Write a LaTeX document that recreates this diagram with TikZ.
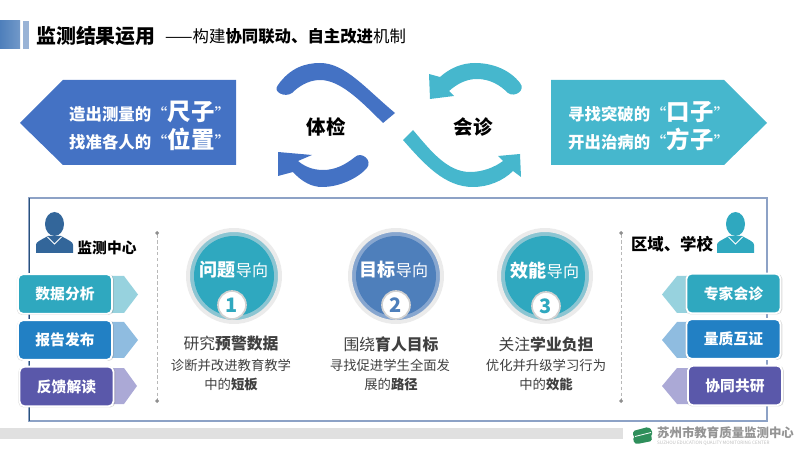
\documentclass[tikz,border=0pt]{standalone}
\usepackage{fontspec}
\setmainfont{Noto Sans CJK SC}
\usetikzlibrary{arrows.meta,shadows}
\definecolor{SZBlue}{HTML}{4472C4}
\definecolor{SZCyan}{HTML}{46B7CD}
\definecolor{SZTeal}{HTML}{2FA8BF}
\definecolor{SZTealPale}{HTML}{8CC5D2}
\definecolor{SZSteel}{HTML}{4E7FBB}
\definecolor{SZSteelPale}{HTML}{87A6CF}
\definecolor{SZAzure}{HTML}{2280C4}
\definecolor{SZViolet}{HTML}{5A58AA}
\definecolor{SZTealTag}{HTML}{97D2DE}
\definecolor{SZAzureTag}{HTML}{8FBCE0}
\definecolor{SZVioletTag}{HTML}{ABA9D6}
\definecolor{SZFrame}{HTML}{8DA2C6}
\definecolor{SZNavy}{HTML}{33669A}
\definecolor{SZInk}{HTML}{404040}
\definecolor{SZLogo}{HTML}{2F8F5B}
\newcommand{\bigwordfont}{\fontsize{20}{20}\selectfont\bfseries}
\newcommand{\quoteword}[1]{{\mdseries “}{\bigwordfont #1}{\mdseries ”}}

\begin{document}
\begin{tikzpicture}[
      x=0.3mm,y=-0.3mm,
      band/.style={anchor=west,inner sep=0pt,text=white,font=\fontsize{14}{16}\selectfont\bfseries},
      btn/.style={draw=white,line width=0.55mm,rounded corners=1.5mm,inner sep=0pt,
        minimum width=28.2mm,minimum height=11.9mm,text=white,
        font=\fontsize{12.6}{14}\selectfont\bfseries,
        drop shadow={shadow xshift=0.1mm,shadow yshift=-0.15mm,shadow scale=1.03,opacity=.3,fill=gray}},
      ring/.style={circle,minimum size=27.6mm,line width=1.2mm,draw=black!8,inner sep=0pt},
      disc/.style={circle,minimum size=24mm,inner sep=0pt},
      badge/.style={circle,minimum size=8.4mm,inner sep=0pt,fill=white,draw=black!18,
        line width=0.5mm,font=\fontsize{17}{18}\selectfont\bfseries},
      headword/.style={inner sep=0pt,text=white,font=\fontsize{13.7}{16}\selectfont},
      lead/.style={inner sep=0pt,text=SZInk,font=\fontsize{13.5}{16}\selectfont},
      note/.style={inner sep=0pt,text=SZInk,font=\fontsize{11.4}{14}\selectfont},
      cyclelabel/.style={inner sep=0pt,font=\fontsize{16.6}{18}\selectfont\bfseries},
      divider/.style={densely dashed,draw=black!28,line width=0.25mm,
        {Diamond[length=1.2mm,width=1.2mm,color=black!45,fill=black!45]}-{Diamond[length=1.2mm,width=1.2mm,color=black!45,fill=black!45]}},
      person/.pic={
        \fill[pic actions] (18.5,11) ellipse [x radius=9.5,y radius=12];
        \fill[pic actions] (0,40) -- (0,32) .. controls (0,29) and (3,28) .. (12,23)
          -- (25,23) .. controls (34,28) and (37,29) .. (37,32) -- (37,40) -- cycle;
        \draw[white,line width=0.3mm] (11.5,24) -- (18.5,31) -- (25.5,24);
      }
    ]
    \useasboundingbox (0,0) rectangle (800,450);

    % title strip
    \fill[left color=SZSteel,right color=SZSteel!80] (0,21) rectangle (20,49);
    \fill[SZSteelPale!85] (23,21) rectangle (29,49);
    \node[anchor=west,inner sep=0pt,font=\fontsize{17}{20}\selectfont\bfseries] (title) at (36,36)
      {监测结果运用};
    \node[anchor=west,inner sep=0pt,font=\fontsize{14}{16}\selectfont] (subtitle) at (165,36)
      {——构建\textbf{协同联动、自主改进}机制};

    % upper row
    \fill[SZBlue] (20,123) -- (63,80) -- (236,80) -- (236,165) -- (63,165) -- cycle;
    \fill[SZCyan] (551,80) -- (724,80) -- (767,123) -- (724,165) -- (551,165) -- cycle;
    \node[band] (ruler) at (69,112) {造出测量的\quoteword{尺子}};
    \node[band] (place) at (69,139) {找准各人的\quoteword{位置}};
    \node[band] (gap) at (568,112) {寻找突破的\quoteword{口子}};
    \node[band] (cure) at (568,139) {开出治病的\quoteword{方子}};

    \fill[SZBlue] (278,85) .. controls (290,68) and (305,63) .. (320,63)
      .. controls (345,63) and (365,88) .. (395,113) -- (383,123)
      .. controls (360,100) and (340,80) .. (320,80)
      .. controls (308,80) and (298,87) .. (292,93)
      .. controls (285,98) and (272,92) .. (278,85) -- cycle;
    \fill[SZBlue] (355,157) .. controls (345,165) and (335,170) .. (323,170)
      .. controls (312,170) and (304,166) .. (298,161) -- (312,155) -- (278,152)
      -- (278,176) -- (293,172) .. controls (302,182) and (312,187) .. (322,187)
      .. controls (340,187) and (358,178) .. (367,168)
      .. controls (373,160) and (361,151) .. (355,157) -- cycle;
    \fill[SZCyan] (429,74) -- (430,99) -- (454,96) -- (449,91)
      .. controls (457,84) and (466,79) .. (477,79)
      .. controls (490,79) and (500,85) .. (508,93)
      .. controls (515,98) and (526,90) .. (520,83)
      .. controls (510,70) and (493,63) .. (475,63)
      .. controls (462,63) and (450,68) .. (440,77) -- cycle;
    \fill[SZCyan] (403,140) -- (413,130) .. controls (430,150) and (447,172) .. (470,172)
      .. controls (483,172) and (495,167) .. (503,161) -- (498,156) -- (520,154)
      -- (521,177) -- (513,171) .. controls (503,181) and (488,187) .. (473,187)
      .. controls (445,187) and (425,165) .. (403,140) -- cycle;
    \node[cyclelabel] (checkup) at (326,127) {体检};
    \node[cyclelabel] (consult) at (473,127) {会诊};

    % frame and footer
    \draw[SZFrame,line width=0.55mm] (29,198) rectangle (767,421);
    \draw[SZNavy!80!black,line width=0.3mm] (29,198) -- (29,421);
    \fill[black!12] (0,428) rectangle (623,439);

    % left side
    \pic[fill=SZNavy] at (36,213) {person};
    \node[inner sep=0pt,font=\fontsize{12.6}{14}\selectfont\bfseries] (center) at (107,248) {监测中心};
    \fill[SZTealTag] (100,276) -- (124,276) -- (138,294.5) -- (124,313) -- (100,313) -- cycle;
    \fill[SZAzureTag] (100,322) -- (124,322) -- (138,340) -- (124,358) -- (100,358) -- cycle;
    \fill[SZVioletTag] (100,368) -- (124,368) -- (137,386) -- (124,404) -- (100,404) -- cycle;
    \node[btn,fill=SZTeal] (analysis) at (65,294) {数据分析};
    \node[btn,fill=SZAzure] (report) at (65,340) {报告发布};
    \node[btn,fill=SZViolet] (reading) at (66.5,386.5) {反馈解读};

    % right side
    \pic[fill=SZTeal] at (717,213) {person};
    \node[inner sep=0pt,font=\fontsize{14}{16}\selectfont\bfseries] (schools) at (672,244) {区域、学校};
    \fill[SZTealTag] (700,276) -- (677,276) -- (662,294.5) -- (677,313) -- (700,313) -- cycle;
    \fill[SZAzureTag] (700,322) -- (677,322) -- (662,340) -- (677,358) -- (700,358) -- cycle;
    \fill[SZVioletTag] (700,368) -- (677,368) -- (662,386) -- (677,404) -- (700,404) -- cycle;
    \node[btn,fill=SZTeal] (experts) at (733.5,293.5) {专家会诊};
    \node[btn,fill=SZAzure] (quality) at (733.5,339) {量质互证};
    \node[btn,fill=SZViolet] (research) at (735,385.5) {协同共研};

    % dividers
    \coordinate (divLa) at (157,231);
    \coordinate (divLb) at (157,403);
    \coordinate (divRa) at (621,231);
    \coordinate (divRb) at (621,403);
    \draw[divider] (divLa) -- (divLb);
    \draw[divider] (divRa) -- (divRb);

    % three columns
    \node[ring,fill=SZTealPale] (ringA) at (234,276) {};
    \node[disc,fill=SZTeal] (discA) at (234,276) {};
    \node[headword] (headA) at (234,270)
      {\fontsize{15.4}{16}\selectfont\textbf{问题}\fontsize{13.7}{16}\selectfont 导向};
    \node[badge,text=SZTeal] (badgeA) at (232,305) {1};
    \node[lead] (leadA) at (231,344) {研究\textbf{预警数据}};
    \node[note] (noteA) at (231,365) {诊断并改进教育教学};
    \node[note] (endA) at (231,384) {中的\textbf{短板}};

    \node[ring,fill=SZSteelPale] (ringB) at (396,276) {};
    \node[disc,fill=SZSteel] (discB) at (396,276) {};
    \node[headword] (headB) at (394,270)
      {\fontsize{15.4}{16}\selectfont\textbf{目标}\fontsize{13.7}{16}\selectfont 导向};
    \node[badge,text=SZSteel] (badgeB) at (396,305) {2};
    \node[lead] (leadB) at (391,344) {围绕\textbf{育人目标}};
    \node[note] (noteB) at (390,365) {寻找促进学生全面发};
    \node[note] (endB) at (391,384) {展的\textbf{路径}};

    \node[ring,fill=SZTealPale] (ringC) at (545,276) {};
    \node[disc,fill=SZTeal] (discC) at (545,276) {};
    \node[headword] (headC) at (545,271)
      {\fontsize{15.4}{16}\selectfont\textbf{效能}\fontsize{13.7}{16}\selectfont 导向};
    \node[badge,text=SZTeal] (badgeC) at (546,306) {3};
    \node[lead] (leadC) at (546,344) {关注\textbf{学业负担}};
    \node[note] (noteC) at (546,365) {优化并升级学习行为};
    \node[note] (endC) at (546,384) {中的\textbf{效能}};

    % footer logo
    \fill[SZLogo,rounded corners=0.5mm] (633,431) -- (648,427) -- (652,430) -- (652,436) -- (637,440) -- (633,436) -- cycle;
    \fill[SZLogo,rounded corners=0.5mm] (633,437) -- (651,433) -- (652,441) -- (637,444) -- (634,443) -- cycle;
    \draw[white,line width=0.25mm] (635,436.5) -- (651,432.5);
    \node[anchor=west,inner sep=0pt,text=black!42,font=\fontsize{10.6}{12}\selectfont\bfseries] (orgname) at (657,433) {苏州市教育质量监测中心};
    \node[anchor=west,inner sep=0pt,text=black!25,font=\fontsize{3.9}{5}\selectfont] (orgeng) at (657,443) {SUZHOU EDUCATION QUALITY MONITORING CENTER};
  \end{tikzpicture}
\end{document}
